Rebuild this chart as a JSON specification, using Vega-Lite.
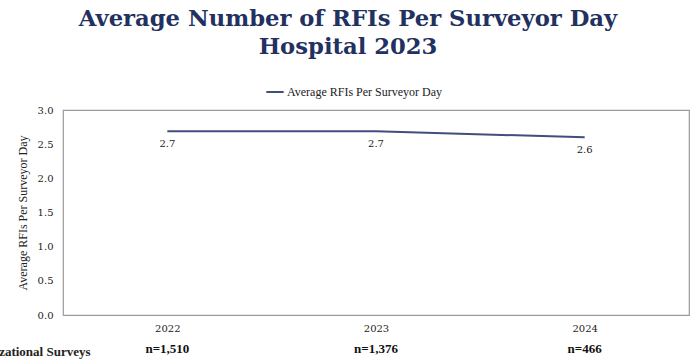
{
  "$schema": "https://vega.github.io/schema/vega-lite/v6.json",
  "width": 626,
  "height": 205,
  "autosize": {"type": "none"},
  "padding": {"left": 63, "top": 110, "right": 8, "bottom": 46},
  "background": "white",
  "title": {
    "text": ["Average Number of RFIs Per Surveyor Day", "Hospital 2023"],
    "font": "DejaVu Serif",
    "fontSize": 22.7,
    "fontWeight": "bold",
    "color": "#22315f",
    "lineHeight": 28,
    "anchor": "middle",
    "frame": "group",
    "dx": -28,
    "offset": 23
  },
  "config": {
    "view": {"stroke": "#9a9a9a", "strokeWidth": 1.2},
    "axis": {"labelFont": "DejaVu Serif", "titleFont": "Liberation Serif", "labelColor": "#222", "titleColor": "#222"}
  },
  "data": {
    "values": [
      {"year": "2022", "value": 2.69, "label": "2.7", "n": "n=1,510", "series": "Average RFIs Per Surveyor Day"},
      {"year": "2023", "value": 2.69, "label": "2.7", "n": "n=1,376", "series": "Average RFIs Per Surveyor Day"},
      {"year": "2024", "value": 2.6, "label": "2.6", "n": "n=466", "series": "Average RFIs Per Surveyor Day"}
    ]
  },
  "encoding": {
    "x": {
      "field": "year",
      "type": "ordinal",
      "scale": {"type": "point", "padding": 0.5},
      "axis": {
        "title": "Number of Organizational Surveys",
        "titleFont": "Liberation Serif",
        "titleFontWeight": "bold",
        "titleFontSize": 13,
        "titleAlign": "right",
        "titleAnchor": null,
        "titleX": 27,
        "titleY": 40,
        "titleBaseline": "alphabetic",
        "labelAngle": 0,
        "labelFontSize": 10,
        "labelPadding": 8,
        "ticks": false,
        "domain": false
      }
    }
  },
  "layer": [
    {
      "mark": {"type": "line", "strokeWidth": 2},
      "encoding": {
        "y": {
          "field": "value",
          "type": "quantitative",
          "scale": {"domain": [0, 3]},
          "axis": {
            "title": "Average RFIs Per Surveyor Day",
            "titleFontSize": 12,
            "titleFontWeight": "normal",
            "titlePadding": 8,
            "tickCount": 6,
            "format": ".1f",
            "labelFontSize": 10,
            "labelPadding": 10,
            "ticks": false,
            "domain": false,
            "grid": false
          }
        },
        "color": {
          "field": "series",
          "type": "nominal",
          "scale": {"range": ["#414d7c"]},
          "legend": {
            "title": null,
            "orient": "none",
            "legendX": 202,
            "legendY": -28,
            "symbolType": "stroke",
            "symbolSize": 300,
            "symbolStrokeWidth": 2,
            "labelFont": "Liberation Serif",
            "labelFontSize": 12,
            "labelColor": "#222",
            "labelOffset": 2
          }
        }
      }
    },
    {
      "mark": {"type": "text", "dy": 13, "font": "DejaVu Serif", "fontSize": 10, "color": "#222"},
      "encoding": {
        "y": {"field": "value", "type": "quantitative"},
        "text": {"field": "label"}
      }
    },
    {
      "mark": {"type": "text", "font": "Liberation Serif", "fontSize": 13, "fontWeight": "bold", "color": "#111", "baseline": "alphabetic"},
      "encoding": {
        "y": {"datum": -0.55, "type": "quantitative"},
        "text": {"field": "n"}
      }
    }
  ]
}
